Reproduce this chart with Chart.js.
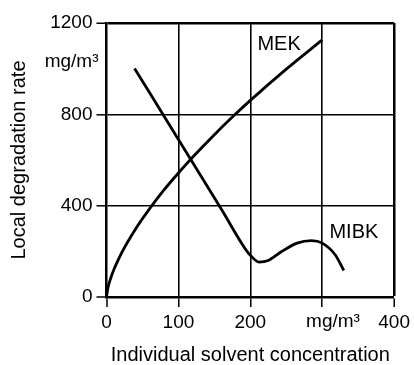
<!DOCTYPE html>
<html>
<head>
<meta charset="utf-8">
<script src="https://cdn.jsdelivr.net/npm/chart.js@4.4.1/dist/chart.umd.min.js"></script>
<style>
  body { margin: 0; background: #fff; }
  canvas { display: block; }
</style>
</head>
<body>
<canvas id="degradation-chart" width="414" height="365"></canvas>
<script>
// MEK degradation rate vs concentration (mg/m3)
const mekConc = [0, 2, 5, 10, 15, 20, 30, 40, 60, 80, 100, 120, 150, 175, 200, 250, 300];
const mekRate = [0, 40, 74, 118, 154, 187, 244, 296, 387, 469, 543, 613, 711, 788, 861, 998, 1126];

// MIBK degradation rate vs concentration (mg/m3)
const mibkConc = [39, 100, 160, 194, 200, 212, 225, 243, 265, 285, 300, 318, 330];
const mibkRate = [1001, 690, 383, 206, 183, 153, 160, 198, 236, 247, 236, 185, 116];

const xTicks = [0, 100, 200, 300, 400];
const xTickLabels = ["0", "100", "200", "", "400"];
const yTicks = [0, 400, 800, 1200];

const FONT = "'Liberation Sans', Arial, Helvetica, sans-serif";

const toPoints = (xs, ys) => xs.map((x, i) => ({ x: x, y: ys[i] }));

// unit labels and curve names, placed through the scales
const annotations = {
  id: "annotations",
  afterDraw(chart) {
    const ctx = chart.ctx;
    const xs = chart.scales.x;
    const ys = chart.scales.y;
    ctx.save();
    ctx.fillStyle = "#000";
    ctx.textBaseline = "middle";
    ctx.font = "19px " + FONT;
    ctx.textAlign = "right";
    ctx.fillText("mg/m³", xs.left - 8, ys.getPixelForValue(1030));
    ctx.textAlign = "center";
    ctx.fillText("mg/m³", xs.getPixelForValue(315), ys.bottom + 25);
    ctx.font = "20px " + FONT;
    ctx.fillText("MEK", xs.getPixelForValue(240), ys.getPixelForValue(1104));
    ctx.fillText("MIBK", xs.getPixelForValue(344), ys.getPixelForValue(281));
    ctx.restore();
  },
};

const gridWidth = (ctx) => (ctx.index === 0 ? 0 : ctx.tick && (ctx.index === 4 || ctx.tick.value === 1200) ? 2.5 : 1.6);

const ctx = document.getElementById("degradation-chart").getContext("2d");
const chart = new Chart(ctx, {
  type: "line",
  data: {
    datasets: [
      {
        label: "MEK",
        data: toPoints(mekConc, mekRate),
        borderColor: "#000",
        borderWidth: 2.8,
        pointRadius: 0,
        cubicInterpolationMode: "monotone",
        fill: false,
      },
      {
        label: "MIBK",
        data: toPoints(mibkConc, mibkRate),
        borderColor: "#000",
        borderWidth: 2.8,
        pointRadius: 0,
        cubicInterpolationMode: "monotone",
        fill: false,
      },
    ],
  },
  options: {
    responsive: false,
    animation: false,
    events: [],
    layout: { padding: { top: 23, right: 17, left: 0, bottom: 0 } },
    plugins: {
      legend: { display: false },
      tooltip: { enabled: false },
    },
    scales: {
      x: {
        type: "linear",
        min: 0,
        max: 400,
        afterBuildTicks: (scale) => {
          scale.ticks = xTicks.map((v) => ({ value: v }));
        },
        afterFit: (scale) => {
          scale.height = 68;
        },
        ticks: {
          color: "#000",
          font: { family: FONT, size: 19 },
          padding: 4,
          maxRotation: 0,
          callback: (value) => xTickLabels[xTicks.indexOf(value)],
        },
        grid: {
          color: "#000",
          lineWidth: gridWidth,
          tickLength: 10,
          tickWidth: 1.5,
          tickColor: "#000",
        },
        border: { display: true, color: "#000", width: 2.5 },
        title: {
          display: true,
          text: "Individual solvent concentration",
          color: "#000",
          font: { family: FONT, size: 20, lineHeight: 1 },
          padding: { top: 0, bottom: 0 },
        },
      },
      y: {
        type: "linear",
        min: 0,
        max: 1200,
        afterBuildTicks: (scale) => {
          scale.ticks = yTicks.map((v) => ({ value: v }));
        },
        afterFit: (scale) => {
          scale.width = 106.5;
        },
        ticks: {
          color: "#000",
          font: { family: FONT, size: 19 },
          padding: 4,
          callback: (value) => String(value),
        },
        grid: {
          color: "#000",
          lineWidth: gridWidth,
          tickLength: 10,
          tickWidth: 1.5,
          tickColor: "#000",
        },
        border: { display: true, color: "#000", width: 2.5 },
        title: {
          display: true,
          text: "Local degradation rate",
          color: "#000",
          font: { family: FONT, size: 20, lineHeight: 1 },
          padding: { top: 9, bottom: 0 },
        },
      },
    },
  },
  plugins: [annotations],
});
</script>
</body>
</html>
